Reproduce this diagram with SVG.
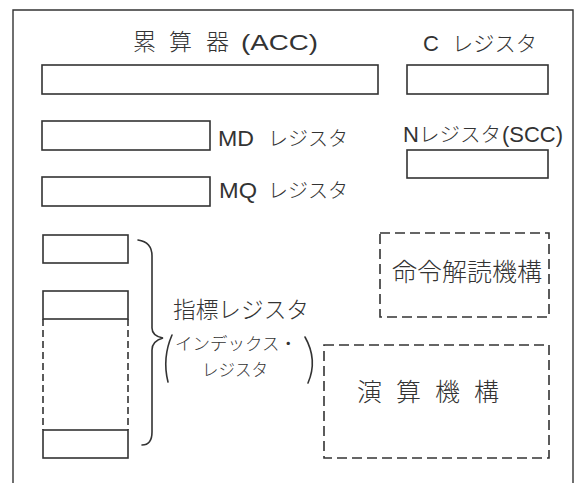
<svg xmlns="http://www.w3.org/2000/svg" width="578" height="483" viewBox="0 0 578 483">
<style>
.bg{fill:#fff}
.frame{fill:none;stroke:#333;stroke-width:1.4}
.reg{fill:#fff;stroke:#333;stroke-width:1.6}
.dash{fill:none;stroke:#333;stroke-width:1.6;stroke-dasharray:10 5}
.dside{fill:none;stroke:#333;stroke-width:1.6;stroke-dasharray:7 4}
.br{fill:none;stroke:#333;stroke-width:1.6;stroke-linecap:round}
text{font-family:"Liberation Sans","Noto Sans CJK JP",sans-serif;fill:#333}
.jp{font-family:"Noto Sans CJK JP",sans-serif;font-weight:300}
</style>
<rect class="bg" x="0" y="0" width="578" height="483"/>
<path class="frame" d="M13,483 V10 H573 V483"/>

<g id="acc">
  <text class="jp" x="133" y="50" font-size="23">累</text>
  <text class="jp" x="169" y="50" font-size="23">算</text>
  <text class="jp" x="206" y="50" font-size="23">器</text>
  <text x="241" y="50" font-size="22" textLength="77" lengthAdjust="spacingAndGlyphs">(ACC)</text>
  <rect class="reg" x="42" y="65" width="336" height="29"/>
</g>

<g id="c-reg">
  <text x="423" y="51" font-size="22">C</text>
  <text class="jp" x="452" y="51" font-size="21" textLength="85" lengthAdjust="spacingAndGlyphs">レジスタ</text>
  <rect class="reg" x="407" y="65" width="141" height="29"/>
</g>

<g id="md-reg">
  <rect class="reg" x="42" y="121" width="168" height="29"/>
  <text x="218" y="146" font-size="22" textLength="36" lengthAdjust="spacingAndGlyphs">MD</text>
  <text class="jp" x="268" y="146" font-size="20" textLength="80" lengthAdjust="spacingAndGlyphs">レジスタ</text>
</g>

<g id="mq-reg">
  <rect class="reg" x="42" y="177" width="168" height="29"/>
  <text x="219" y="198" font-size="22" textLength="38" lengthAdjust="spacingAndGlyphs">MQ</text>
  <text class="jp" x="268" y="198" font-size="20" textLength="80" lengthAdjust="spacingAndGlyphs">レジスタ</text>
</g>

<g id="n-reg">
  <text x="403" y="142" font-size="22">N</text>
  <text class="jp" x="419" y="142" font-size="20" textLength="82" lengthAdjust="spacingAndGlyphs">レジスタ</text>
  <text x="502" y="142" font-size="22" textLength="61" lengthAdjust="spacingAndGlyphs">(SCC)</text>
  <rect class="reg" x="407" y="150" width="141" height="28"/>
</g>

<g id="index-reg">
  <rect class="reg" x="43" y="235" width="85" height="28"/>
  <rect class="reg" x="43" y="291" width="85" height="28"/>
  <path class="dside" d="M43,319 V430 M128,319 V430"/>
  <rect class="reg" x="43" y="430" width="85" height="28"/>
</g>

<g id="index-label">
  <text class="jp" x="173" y="318" font-size="23" textLength="136" lengthAdjust="spacingAndGlyphs">指標レジスタ</text>
  <text class="jp" x="175" y="350" font-size="17" textLength="122" lengthAdjust="spacingAndGlyphs">インデックス・</text>
  <text class="jp" x="202" y="376" font-size="17" textLength="66" lengthAdjust="spacingAndGlyphs">レジスタ</text>
  <path class="br" d="M172,335 Q162,358 168,382"/>
  <path class="br" d="M305,337 Q318,360 308,383"/>
</g>

<g id="decoder">
  <rect class="dash" x="380" y="233" width="169" height="84"/>
  <text class="jp" x="392" y="281" font-size="25" textLength="150" lengthAdjust="spacingAndGlyphs">命令解読機構</text>
</g>

<g id="alu">
  <rect class="dash" x="324" y="345" width="225" height="113"/>
  <text class="jp" x="357" y="401" font-size="25">演</text>
  <text class="jp" x="396" y="401" font-size="25">算</text>
  <text class="jp" x="435" y="401" font-size="25">機</text>
  <text class="jp" x="474" y="401" font-size="25">構</text>
</g>

<g id="connectors">
  <path class="br" d="M138,240 Q152,242 152,256 V328 Q152,336 163,338 Q152,341 152,350 V432 Q152,445 142,445"/>
</g>
</svg>
